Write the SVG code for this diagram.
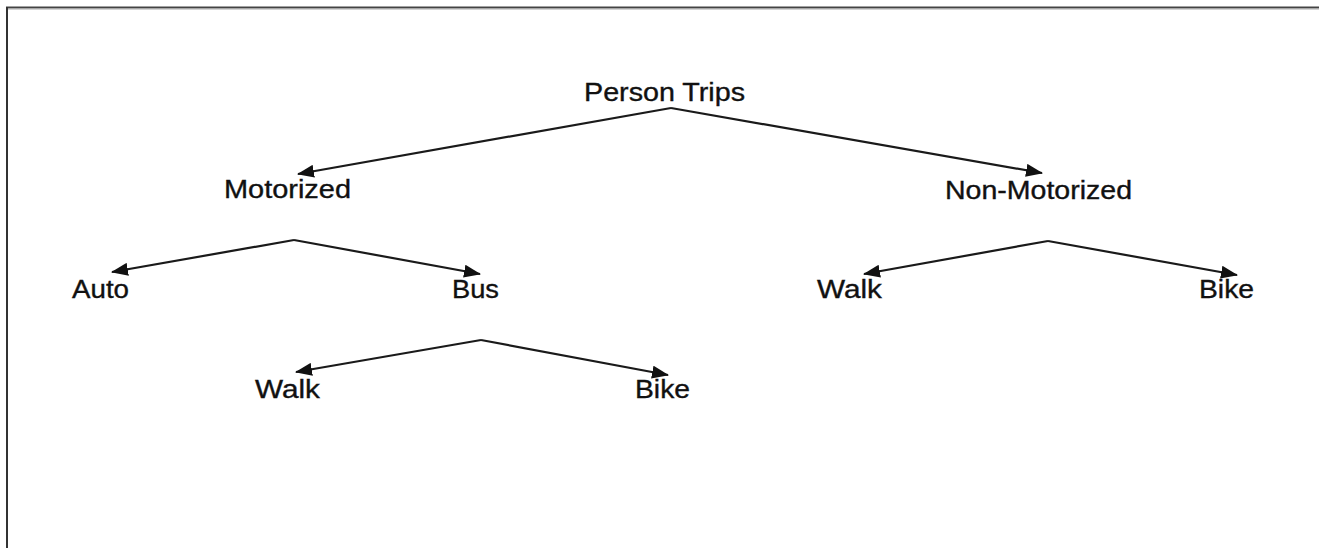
<svg xmlns="http://www.w3.org/2000/svg" width="1319" height="548" viewBox="0 0 1319 548">
<style>
.lbl{font-family:"Liberation Sans",Arial,sans-serif;font-size:25px;fill:#111;stroke:#111;stroke-width:0.35}
.edge{stroke:#1a1a1a;stroke-width:2.2;fill:none;marker-end:url(#ah)}
</style>
<defs>
<marker id="ah" markerWidth="17" markerHeight="13" refX="16" refY="6.5" orient="auto" markerUnits="userSpaceOnUse">
<path d="M0,0 L17,6.5 L0,13 Z" fill="#111"/>
</marker>
</defs>
<rect width="1319" height="548" fill="#fff"/>
<g id="frame">
<line x1="6" y1="7.5" x2="1319" y2="7.5" stroke="#444" stroke-width="2"/>
<line x1="6" y1="9" x2="1319" y2="9" stroke="#aaa" stroke-width="1"/>
<line x1="7" y1="7" x2="7" y2="548" stroke="#333" stroke-width="2"/>
</g>
<g id="connectors">
<path class="edge" d="M671,108 L298,174"/>
<path class="edge" d="M671,108 L1042,173"/>
<path class="edge" d="M294,240 L112,272"/>
<path class="edge" d="M294,240 L480,274"/>
<path class="edge" d="M1048,241 L864,274"/>
<path class="edge" d="M1048,241 L1237,275"/>
<path class="edge" d="M481,340 L296,372"/>
<path class="edge" d="M481,340 L668,375"/>
</g>
<g id="n-person-trips"><text class="lbl" x="584" y="101" textLength="161" lengthAdjust="spacingAndGlyphs">Person Trips</text></g>
<g id="n-motorized"><text class="lbl" x="224" y="198" textLength="127" lengthAdjust="spacingAndGlyphs">Motorized</text></g>
<g id="n-non-motorized"><text class="lbl" x="945" y="199" textLength="187" lengthAdjust="spacingAndGlyphs">Non-Motorized</text></g>
<g id="n-auto"><text class="lbl" x="72" y="298" textLength="57" lengthAdjust="spacingAndGlyphs">Auto</text></g>
<g id="n-bus"><text class="lbl" x="452" y="298" textLength="47" lengthAdjust="spacingAndGlyphs">Bus</text></g>
<g id="n-walk-nm"><text class="lbl" x="817" y="298" textLength="65" lengthAdjust="spacingAndGlyphs">Walk</text></g>
<g id="n-bike-nm"><text class="lbl" x="1199" y="298" textLength="55" lengthAdjust="spacingAndGlyphs">Bike</text></g>
<g id="n-walk-bus"><text class="lbl" x="255" y="398" textLength="65" lengthAdjust="spacingAndGlyphs">Walk</text></g>
<g id="n-bike-bus"><text class="lbl" x="635" y="398" textLength="55" lengthAdjust="spacingAndGlyphs">Bike</text></g>
</svg>
